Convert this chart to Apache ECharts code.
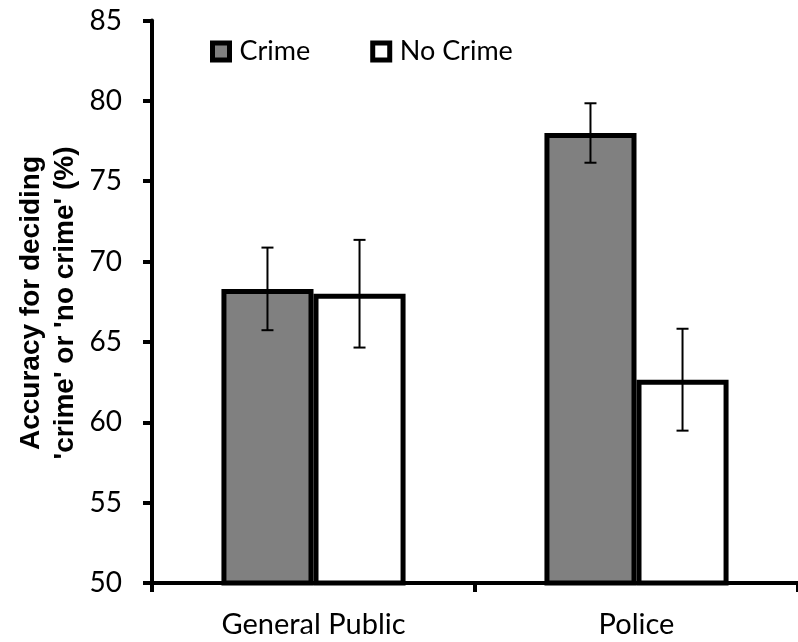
<!DOCTYPE html>
<html>
<head>
<meta charset="utf-8">
<script src="https://cdn.jsdelivr.net/npm/echarts@6/dist/echarts.min.js"></script>
<style>
  html, body { margin: 0; padding: 0; background: #fff; }
  #chart { width: 798px; height: 642px; }
</style>
</head>
<body>
<div id="chart"></div>
<script>
// Groups along the x axis
const groups = ['General Public', 'Police'];
// Mean accuracy (%) per group
const crimeMeans = [68.3, 78.0];
const noCrimeMeans = [68.0, 62.65];
// Error bar half-lengths (%)
const crimeErr = [2.57, 1.85];
const noCrimeErr = [3.35, 3.17];
// Value axis ticks
const yTicks = [50, 55, 60, 65, 70, 75, 80, 85];

const FONT = 'Lato';
const CATEGORY_GAP = 0.43; // share of each band left empty around the pair of bars

const chart = echarts.init(document.getElementById('chart'), null, { renderer: 'canvas' });

// Error bars drawn over the bars: side 0 = left bar (Crime), 1 = right bar (No Crime)
function errorSeries(name, means, errs, side) {
  return {
    name: name,
    type: 'custom',
    z: 10,
    silent: true,
    data: means.map((m, i) => [i, m - errs[i], m + errs[i]]),
    renderItem: function (params, api) {
      const band = api.size([1, 0])[0];
      const barW = band * (1 - CATEGORY_GAP) / 2;
      const low = api.coord([api.value(0), api.value(1)]);
      const high = api.coord([api.value(0), api.value(2)]);
      const x = low[0] + (side === 0 ? -barW / 2 : barW / 2);
      const cap = 6;
      const style = { stroke: '#000', lineWidth: 2 };
      return {
        type: 'group',
        children: [
          { type: 'line', shape: { x1: x, y1: high[1], x2: x, y2: low[1] }, style: style },
          { type: 'line', shape: { x1: x - cap, y1: high[1], x2: x + cap, y2: high[1] }, style: style },
          { type: 'line', shape: { x1: x - cap, y1: low[1], x2: x + cap, y2: low[1] }, style: style }
        ]
      };
    }
  };
}

chart.setOption({
  animation: false,
  backgroundColor: '#fff',
  grid: { left: 152, top: 20.5, bottom: 59, width: 651 },
  legend: {
    data: ['Crime', 'No Crime'],
    left: 210,
    top: 38,
    padding: 0,
    itemWidth: 17,
    itemHeight: 17,
    itemGap: 60,
    icon: 'rect',
    itemStyle: { borderColor: '#000', borderWidth: 5 },
    textStyle: { fontFamily: FONT, fontSize: 27, color: '#000', padding: [0, 0, 0, 5] }
  },
  xAxis: {
    type: 'category',
    data: groups,
    axisLine: { lineStyle: { color: '#000', width: 4 } },
    axisTick: { show: true, length: 9, lineStyle: { color: '#000', width: 4 } },
    axisLabel: { color: '#000', fontFamily: FONT, fontSize: 29, margin: 27 }
  },
  yAxis: {
    type: 'value',
    min: yTicks[0],
    max: yTicks[yTicks.length - 1],
    interval: 5,
    axisLine: { show: true, lineStyle: { color: '#000', width: 4 } },
    axisTick: { show: true, length: 9, lineStyle: { color: '#000', width: 4 } },
    splitLine: { show: false },
    axisLabel: { color: '#000', fontFamily: FONT, fontSize: 28, margin: 30 }
  },
  graphic: [{
    type: 'text',
    rotation: Math.PI / 2,
    x: 48,
    y: 303,
    style: {
      text: "Accuracy for deciding\n'crime' or 'no crime' (%)",
      fontFamily: 'Liberation Sans',
      fontWeight: 'bold',
      fontSize: 28,
      lineHeight: 34,
      fill: '#000',
      align: 'center',
      verticalAlign: 'middle'
    }
  }],
  series: [
    {
      name: 'Crime',
      type: 'bar',
      data: crimeMeans,
      barGap: '0%',
      barCategoryGap: (CATEGORY_GAP * 100) + '%',
      itemStyle: { color: '#808080', borderColor: '#000', borderWidth: 5 }
    },
    {
      name: 'No Crime',
      type: 'bar',
      data: noCrimeMeans,
      itemStyle: { color: '#ffffff', borderColor: '#000', borderWidth: 5 }
    },
    errorSeries('Crime error', crimeMeans, crimeErr, 0),
    errorSeries('No Crime error', noCrimeMeans, noCrimeErr, 1)
  ]
});
</script>
</body>
</html>
